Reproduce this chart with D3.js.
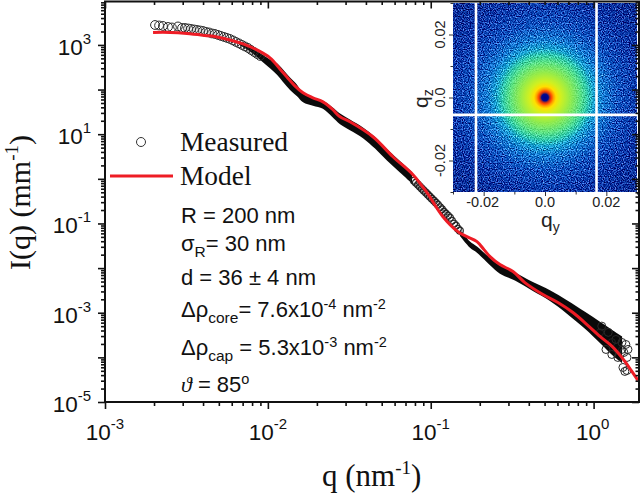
<!DOCTYPE html>
<html><head><meta charset="utf-8">
<script src="https://cdn.jsdelivr.net/npm/d3@7"></script>
<style>html,body{margin:0;padding:0;background:#fff}svg{display:block}</style>
</head><body><svg id="c" width="640" height="494"></svg>
<script>
// log10(q), log10(I)
const modelLogQ=[-2.705,-2.601,-2.497,-2.386,-2.312,-2.233,-2.153,-2.067,-1.987,-1.926,-1.883,-1.834,-1.784,-1.723,-1.662,-1.606,-1.557,-1.496,-1.355,-1.232,-1.109,-1.023,-0.925,-0.833,-0.778,-0.716,-0.673,-0.636,-0.575,-0.495,-0.422,-0.311,-0.219,-0.127,-0.041,0.039,0.100,0.143,0.192,0.235,0.272];
const modelLogI=[3.28,3.28,3.257,3.213,3.179,3.112,3.022,2.888,2.709,2.463,2.284,2.083,1.926,1.814,1.725,1.568,1.389,1.278,0.942,0.495,0.092,-0.311,-0.848,-1.183,-1.295,-1.407,-1.586,-1.742,-1.921,-2.078,-2.324,-2.592,-2.771,-2.995,-3.264,-3.532,-3.711,-3.868,-4.091,-4.315,-4.516];
// low-q measured points (open circles)
const lowLogQ=[-2.693,-2.668,-2.644,-2.613,-2.589,-2.552,-2.527,-2.509,-2.490,-2.472,-2.454,-2.435,-2.417,-2.398,-2.380,-2.362,-2.343,-2.325,-2.306,-2.288,-2.269,-2.251,-2.233,-2.214,-2.196,-2.177,-2.159,-2.141,-2.122,-2.104,-2.085,-2.067,-2.048];
const lowLogI=[3.447,3.436,3.425,3.403,3.391,3.414,3.380,3.380,3.369,3.358,3.347,3.336,3.324,3.313,3.291,3.280,3.257,3.246,3.224,3.201,3.179,3.157,3.134,3.101,3.067,3.034,3.000,2.966,2.933,2.888,2.843,2.799,2.754];
// first dense measured band: centre and half-width
const bandALogQ=[-2.177,-2.104,-2.036,-1.987,-1.944,-1.907,-1.864,-1.821,-1.784,-1.723,-1.662,-1.606,-1.557,-1.496,-1.416,-1.342,-1.269,-1.189,-1.115];
const bandALogI=[3.034,2.888,2.709,2.575,2.46,2.31,2.13,1.98,1.814,1.725,1.658,1.501,1.345,1.210,1.031,0.808,0.539,0.271,0.025];
const bandASpread=[0.03,0.05,0.08,0.10,0.13,0.14,0.14,0.13,0.10,0.09,0.09,0.11,0.12,0.12,0.12,0.13,0.13,0.13,0.13];
// hatched middle section
const midLogQ=[-1.103,-1.091,-1.078,-1.066,-1.054,-1.042,-1.029,-1.017,-1.005,-0.993,-0.980,-0.968,-0.956,-0.943,-0.931,-0.919,-0.907,-0.894,-0.882,-0.870,-0.857,-0.845,-0.833,-0.821];
const midLogI=[-0.042,-0.087,-0.132,-0.177,-0.221,-0.266,-0.311,-0.356,-0.400,-0.445,-0.490,-0.535,-0.579,-0.635,-0.680,-0.736,-0.781,-0.825,-0.870,-0.937,-1.004,-1.049,-1.116,-1.161];
// second dense band
const bandCLogQ=[-0.821,-0.759,-0.716,-0.636,-0.575,-0.483,-0.373,-0.268,-0.164,-0.053,0.039,0.112,0.175];
const bandCLogI=[-1.205,-1.474,-1.586,-1.854,-2.034,-2.190,-2.414,-2.615,-2.87,-3.17,-3.44,-3.66,-3.83];
const bandCSpread=[0.07,0.07,0.07,0.08,0.09,0.09,0.10,0.12,0.15,0.19,0.24,0.28,0.30];
// scattered high-q points
const tailLogQ=[0.112,0.149,0.192,0.180,0.205,0.211,0.198,0.174,0.205,0.186,0.137,0.076,0.05,0.09];
const tailLogI=[-3.935,-4.002,-4.315,-4.226,-4.293,-3.823,-3.711,-3.666,-4.002,-3.890,-3.599,-3.823,-3.30,-3.44];

const xDecades=[-3,-2,-1,0];
const yDecades=[-5,-4,-3,-2,-1,0,1,2,3];
const yLabelled=[-5,-3,-1,1,3];
const minorMult=[2,3,4,5,6,7,8,9];

const params=[
 [["R = 200 nm"]],
 [["σ"],["R","sub"],["= 30 nm"]],
 [["d = 36 ± 4 nm"]],
 [["Δρ"],["core","sub"],["= 7.6x10"],["-4","sup"],[" nm"],["-2","sup"]],
 [["Δρ"],["cap","sub"],[" = 5.3x10"],["-3","sup"],[" nm"],["-2","sup"]],
 [["ϑ","it"],[" = 85"],["o","sup"]]
];
const paramBaselines=[223,251,285,317,355,392];

// inset detector image: radial intensity profile (radius in q units, colour)
const profileR=[0,0.0011,0.0016,0.0021,0.0028,0.0036,0.0052,0.0080,0.0115,0.0138,0.0160,0.0190,0.0240,0.0312,0.0443];
const profileC=["#00008a","#000a90","#b03020","#ff4a00","#ffa000","#ffe000","#d0f020","#98ec48","#60e688","#38d0b0","#1fa8d8","#1880d8","#1058c4","#0c40b0","#083098"];
const insetTicksMajor=[-0.02,0,0.02];
const insetTicksMinor=[-0.03,-0.01,0.01,0.03];
const insetBarsY=[-0.0225,0.0168];
const insetBarsZ=[-0.0055];

const sans='"Liberation Sans",Arial,sans-serif', serif='"Liberation Serif","Times New Roman",serif';
const svg=d3.select("#c");
const L=105,R=639,T=1.5,B=402;
const x=d3.scaleLog().domain([1e-3,1.9]).range([L,R]);
const y=d3.scaleLog().domain([1e-5,Math.pow(10,3.973)]).range([B,T]);
const P=v=>Math.pow(10,v);
const zip=(a,b)=>a.map((v,i)=>[P(v),P(b[i])]);
const ink="#111";

// ---- inset
const ix=d3.scaleLinear().domain([-0.03,0.03]).range([453,637]);
const iy=d3.scaleLinear().domain([-0.03,0.03]).range([192,3]);
const ipx=Math.abs(ix(0.01)-ix(0));
const defs=svg.append("defs");
const rMax=profileR[profileR.length-1];
const rg=defs.append("radialGradient").attr("id","det").attr("gradientUnits","userSpaceOnUse")
 .attr("cx",ix(0)).attr("cy",iy(0)).attr("r",ipx*rMax*100);
rg.selectAll("stop").data(profileR).join("stop").attr("offset",d=>d/rMax).attr("stop-color",(d,i)=>profileC[i]);
const fade=defs.append("radialGradient").attr("id","fade").attr("gradientUnits","userSpaceOnUse")
 .attr("cx",ix(0)).attr("cy",iy(0)).attr("r",ipx*1.7);
fade.append("stop").attr("offset",0.0).attr("stop-color","#fff");
fade.append("stop").attr("offset",0.45).attr("stop-color","#fff");
fade.append("stop").attr("offset",1).attr("stop-color","#000");
defs.append("mask").attr("id","fm").attr("maskUnits","userSpaceOnUse").attr("x",453).attr("y",3).attr("width",184).attr("height",189)
 .append("rect").attr("x",453).attr("y",3).attr("width",184).attr("height",189).attr("fill","url(#fade)");
const f=defs.append("filter").attr("id","speck").attr("x",0).attr("y",0).attr("width",1).attr("height",1).attr("color-interpolation-filters","sRGB");
f.append("feTurbulence").attr("type","fractalNoise").attr("baseFrequency",0.85).attr("numOctaves",1).attr("seed",7).attr("result","n");
f.append("feColorMatrix").attr("in","n").attr("type","matrix").attr("values","1 0 0 0 0 1 0 0 0 0 1 0 0 0 0 0 0 0 0 1").attr("result","g");
f.append("feComposite").attr("in","SourceGraphic").attr("in2","g").attr("operator","arithmetic").attr("k1",0).attr("k2",1).attr("k3",1.5).attr("k4",-0.78);
const rectAttrs=s=>s.attr("x",453).attr("y",3).attr("width",184).attr("height",189);
svg.append("rect").call(rectAttrs).attr("fill","url(#det)").attr("filter","url(#speck)");
svg.append("rect").call(rectAttrs).attr("fill","url(#det)").attr("mask","url(#fm)");
svg.append("g").selectAll("line").data(insetBarsY).join("line").attr("x1",d=>ix(d)).attr("x2",d=>ix(d)).attr("y1",3).attr("y2",192).attr("stroke","#fff").attr("stroke-width",2.6);
svg.append("g").selectAll("line").data(insetBarsZ).join("line").attr("y1",d=>iy(d)).attr("y2",d=>iy(d)).attr("x1",453).attr("x2",637).attr("stroke","#fff").attr("stroke-width",2.6);
function insetAxis(gen,tr){const g=svg.append("g").attr("transform",tr).call(gen);g.select(".domain").remove();g.selectAll("line").attr("stroke","#333").attr("stroke-width",1);g.selectAll("text").remove();}
insetAxis(d3.axisBottom(ix).tickValues(insetTicksMajor).tickSize(4),"translate(0,192)");
insetAxis(d3.axisBottom(ix).tickValues(insetTicksMinor).tickSize(2.5),"translate(0,192)");
insetAxis(d3.axisLeft(iy).tickValues(insetTicksMajor).tickSize(4),"translate(453,0)");
insetAxis(d3.axisLeft(iy).tickValues(insetTicksMinor).tickSize(2.5),"translate(453,0)");
const ifmt=d=>d===0?"0.0":d3.format(".2f")(d).replace("−","-");
svg.append("g").selectAll("text").data(insetTicksMajor).join("text").attr("x",d=>ix(d)-(d<0?1:0)).attr("y",207).attr("text-anchor","middle")
 .attr("font-family",sans).attr("font-size",14.5).attr("fill","#222").text(ifmt);
svg.append("g").selectAll("text").data(insetTicksMajor).join("text").attr("text-anchor","middle")
 .attr("transform",d=>`translate(445,${iy(d)}) rotate(-90)`)
 .attr("font-family",sans).attr("font-size",14.5).attr("fill","#222").text(ifmt);
function rich(sel,parts,supDy,subDy,supFs,subFs){
 let off=0;
 parts.forEach(p=>{
  const t=sel.append("tspan").text(p[0]);
  let want=0;
  if(p[1]==="sup"){want=supDy;t.attr("font-size",supFs);}
  if(p[1]==="sub"){want=subDy;t.attr("font-size",subFs);}
  if(p[1]==="it"){t.attr("font-style","italic").attr("font-family",serif);}
  t.attr("dy",want-off);off=want;
 });
}
svg.append("text").attr("x",541).attr("y",227).attr("font-family",sans).attr("font-size",21).attr("fill","#222")
 .call(s=>rich(s,[["q"],["y","sub"]],0,5,0,14));
svg.append("text").attr("transform","translate(428,108) rotate(-90)").attr("font-family",sans).attr("font-size",21).attr("fill","#222")
 .call(s=>rich(s,[["q"],["z","sub"]],0,5,0,14));

// ---- measured data
const line=d3.line().x(d=>x(d[0])).y(d=>y(d[1])).curve(d3.curveCatmullRom);
const band=(qs,is,sp)=>d3.area().x((d,i)=>x(P(qs[i]))).y0((d,i)=>y(P(is[i]-sp[i]))).y1((d,i)=>y(P(is[i]+sp[i]))).curve(d3.curveCatmullRom)(qs);
svg.append("path").attr("d",band(bandALogQ,bandALogI,bandASpread)).attr("fill","#0a0a0a");
svg.append("path").attr("d",band(bandCLogQ,bandCLogI,bandCSpread)).attr("fill","#0a0a0a");
const circles=(pts,r,w,col)=>svg.append("g").attr("fill","none").attr("stroke",col).attr("stroke-width",w)
 .selectAll("circle").data(pts).join("circle").attr("cx",d=>x(d[0])).attr("cy",d=>y(d[1])).attr("r",r);
circles(zip(lowLogQ,lowLogI),4.4,1,"#2a2a2a");
circles(zip(midLogQ,midLogI),3.4,1.2,"#222");
circles(zip(bandCLogQ,bandCLogI).slice(-3),3.6,1,"#222");
circles(zip(tailLogQ,tailLogI),4,1,"#2a2a2a");
// ---- model
svg.append("path").datum(zip(modelLogQ,modelLogI)).attr("d",line).attr("fill","none").attr("stroke","#ee1c25").attr("stroke-width",3);

// ---- axes
const minor=dec=>dec.flatMap(d=>minorMult.map(m=>m*P(d)));
const xMinor=minor(xDecades).filter(v=>v<=1.9), yMinor=minor(yDecades).filter(v=>v<P(3.973));
const xMajor=xDecades.map(P), yMajor=yDecades.map(P);
function ax(gen,tr){const g=svg.append("g").attr("transform",tr).call(gen);g.select(".domain").remove();g.selectAll("text").remove();g.selectAll("line").attr("stroke",ink).attr("stroke-width",1.6);}
ax(d3.axisBottom(x).tickValues(xMajor).tickSize(7),`translate(0,${B})`);
ax(d3.axisBottom(x).tickValues(xMinor).tickSize(4),`translate(0,${B})`);
ax(d3.axisTop(x).tickValues(xMajor).tickSize(-7),`translate(0,${T})`);
ax(d3.axisTop(x).tickValues(xMinor).tickSize(-3.5),`translate(0,${T})`);
ax(d3.axisLeft(y).tickValues(yMajor).tickSize(7),`translate(${L},0)`);
ax(d3.axisLeft(y).tickValues(yMinor).tickSize(4),`translate(${L},0)`);
ax(d3.axisRight(y).tickValues(yMajor).tickSize(-7),`translate(${R},0)`);
ax(d3.axisRight(y).tickValues(yMinor).tickSize(-3.5),`translate(${R},0)`);
svg.append("rect").attr("x",L).attr("y",T).attr("width",R-L).attr("height",B-T).attr("fill","none").attr("stroke",ink).attr("stroke-width",2);

const tickFs=22.5,tickSup=15;
xDecades.forEach(d=>{
 svg.append("text").attr("x",x(P(d))+(d<0?0:-1)).attr("y",440).attr("text-anchor","middle").attr("font-family",sans).attr("font-size",tickFs).attr("fill",ink)
  .call(s=>rich(s,[["10"],[String(d),"sup"]],-11,0,tickSup,0));
});
yLabelled.forEach(d=>{
 svg.append("text").attr("x",91).attr("y",y(P(d))+10).attr("text-anchor","end").attr("font-family",sans).attr("font-size",tickFs).attr("fill",ink)
  .call(s=>rich(s,[["10"],[String(d),"sup"]],-11,0,tickSup,0));
});
svg.append("text").attr("x",322).attr("y",486).attr("font-family",serif).attr("font-size",31).attr("fill",ink)
 .call(s=>rich(s,[["q (nm"],["-1","sup"],[")"]],-12,0,19,0));
svg.append("text").attr("transform","translate(30,270) rotate(-90)").attr("font-family",serif).attr("font-size",30).attr("fill",ink)
 .call(s=>rich(s,[["I(q) (mm"],["-1","sup"],[")"]],-12,0,19,0));

// ---- legend
svg.append("circle").attr("cx",141).attr("cy",142).attr("r",4.5).attr("fill","none").attr("stroke","#333").attr("stroke-width",1);
svg.append("line").attr("x1",110).attr("x2",173).attr("y1",176).attr("y2",176).attr("stroke","#ee1c25").attr("stroke-width",3);
svg.append("text").attr("x",180).attr("y",151).attr("font-family",serif).attr("font-size",27.4).attr("fill",ink).text("Measured");
svg.append("text").attr("x",180).attr("y",185).attr("font-family",serif).attr("font-size",27.4).attr("fill",ink).text("Model");

// ---- parameters
params.forEach((parts,i)=>{
 svg.append("text").attr("x",181).attr("y",paramBaselines[i]).attr("font-family",sans).attr("font-size",22).attr("fill",ink)
  .call(s=>rich(s,parts,-8,6,14.5,15.5));
});
</script></body></html>
